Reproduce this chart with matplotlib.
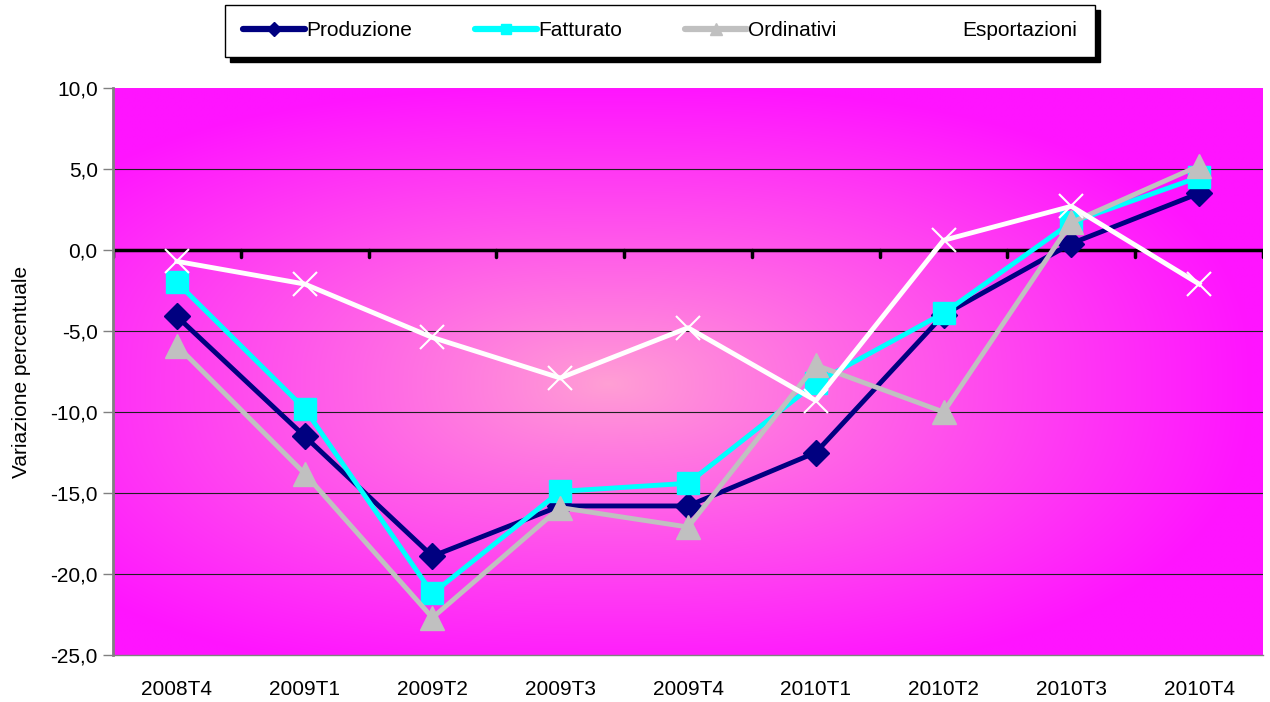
import numpy as np
import matplotlib
matplotlib.use("Agg")
import matplotlib.pyplot as plt
from matplotlib.ticker import FuncFormatter, MultipleLocator
from matplotlib.lines import Line2D
from matplotlib.patches import Rectangle

plt.rcParams['font.family'] = ['Liberation Sans', 'DejaVu Sans']

categories = ["2008T4", "2009T1", "2009T2", "2009T3", "2009T4",
              "2010T1", "2010T2", "2010T3", "2010T4"]
produzione = [-4.1, -11.5, -18.9, -15.8, -15.8, -12.5, -4.0, 0.4, 3.5]
fatturato = [-2.0, -9.8, -21.2, -14.9, -14.4, -8.2, -3.9, 1.7, 4.5]
ordinativi = [-5.9, -13.8, -22.7, -15.9, -17.1, -7.1, -10.0, 1.7, 5.2]
esportazioni = [-0.7, -2.1, -5.4, -7.9, -4.8, -9.3, 0.6, 2.7, -2.1]

FS = 15
W_PX, H_PX = 1270, 702
fig = plt.figure(figsize=(12.7, 7.02), dpi=100)
ax = fig.add_axes([113/W_PX, 47/H_PX, 1150/W_PX, 567/H_PX])

n = len(categories)
x = np.arange(n)
ax.set_xlim(-0.5, n - 0.5)
ax.set_ylim(-25, 10)

# gradient background
H, W = 300, 600
yy, xx = np.mgrid[0:H, 0:W]
cx, cy = 0.43 * W, 0.52 * H
dx = np.abs(xx - cx) / (0.5 * W * 1.12)
dy = np.abs(yy - cy) / (0.5 * H * 1.05)
p = 2.5
r = (dx ** p + dy ** p) ** (1 / p)
t = np.clip(r, 0, 1) ** 0.9
c0 = np.array([255, 160, 212]) / 255
c1 = np.array([255, 20, 255]) / 255
img = c0[None, None, :] * (1 - t[..., None]) + c1[None, None, :] * t[..., None]
ax.imshow(img, extent=[-0.5, n - 0.5, -25, 10], aspect='auto', zorder=0,
          interpolation='bilinear', origin='upper')

# gridlines
for v in [-20, -15, -10, -5, 5]:
    ax.axhline(v, color='#202020', lw=0.8, zorder=1)
ax.axhline(0, color='black', lw=2.5, zorder=1.5)
for b in np.arange(-0.5, n + 0.5, 1.0):
    ax.plot([b, b], [0, -0.45], color='black', lw=2.5, zorder=1.5,
            solid_capstyle='round')

ax.plot(x, produzione, color='#000080', lw=3.5, marker='D', ms=13,
        mfc='#000080', mec='#000080', zorder=3)
ax.plot(x, fatturato, color='#00ffff', lw=3.5, marker='s', ms=16,
        mfc='#00ffff', mec='#00ffff', zorder=4)
ax.plot(x, ordinativi, color='#c0c0c0', lw=3.5, marker='^', ms=17,
        mfc='#c0c0c0', mec='#c0c0c0', zorder=5)
ax.plot(x, esportazioni, color='white', lw=3.5, marker='x', ms=17,
        mew=1.5, mec='white', zorder=6)

ax.set_xticks(x)
ax.set_xticklabels(categories, fontsize=FS)
ax.tick_params(axis='x', length=0, pad=18)
ax.yaxis.set_major_locator(MultipleLocator(5))
ax.yaxis.set_major_formatter(FuncFormatter(lambda v, pos: f"{v:.1f}".replace('.', ',')))
ax.tick_params(axis='y', labelsize=FS, length=7, width=1, color='#808080', pad=4)
ax.set_ylabel("Variazione percentuale", fontsize=FS)
ax.yaxis.set_label_coords((31 - 113) / 1150, 0.5)

for s in ['top', 'right']:
    ax.spines[s].set_visible(False)
ax.spines['left'].set_color('#808080')
ax.spines['left'].set_linewidth(2)
ax.spines['bottom'].set_color('#808080')
ax.spines['bottom'].set_linewidth(1)

# legend box with shadow
lx0, ly0, lx1, ly1 = 225, 5, 1095, 57
fig.patches.append(Rectangle(((lx0 + 5) / W_PX, 1 - (ly1 + 5) / H_PX),
                             (lx1 - lx0) / W_PX, (ly1 - ly0) / H_PX,
                             transform=fig.transFigure, facecolor='black',
                             edgecolor='black', zorder=1))
fig.patches.append(Rectangle((lx0 / W_PX, 1 - ly1 / H_PX),
                             (lx1 - lx0) / W_PX, (ly1 - ly0) / H_PX,
                             transform=fig.transFigure, facecolor='white',
                             edgecolor='black', lw=1, zorder=2))

handles = [
    Line2D([], [], color='#000080', lw=4.5, marker='D', ms=7, mfc='#000080',
           mec='#000080', solid_capstyle='round'),
    Line2D([], [], color='#00ffff', lw=4.5, marker='s', ms=7, mfc='#00ffff',
           mec='#00ffff', solid_capstyle='round'),
    Line2D([], [], color='#c0c0c0', lw=4.5, marker='^', ms=8, mfc='#c0c0c0',
           mec='#c0c0c0', solid_capstyle='round'),
    Line2D([], [], color='white', lw=4.5, marker='x', ms=8, mec='white',
           solid_capstyle='round'),
]
labels = ["Produzione", "Fatturato", "Ordinativi", "Esportazioni"]
leg = fig.legend(handles, labels, loc='center',
                 bbox_to_anchor=((lx0 + lx1) / 2 / W_PX, 1 - (ly0 + ly1) / 2 / H_PX),
                 ncol=4, fontsize=FS, frameon=False,
                 handlelength=3.0, handletextpad=0.05,
                 columnspacing=3.0, borderpad=0.3)
leg.set_zorder(5)

fig.savefig("out.png", dpi=100, facecolor='white')
